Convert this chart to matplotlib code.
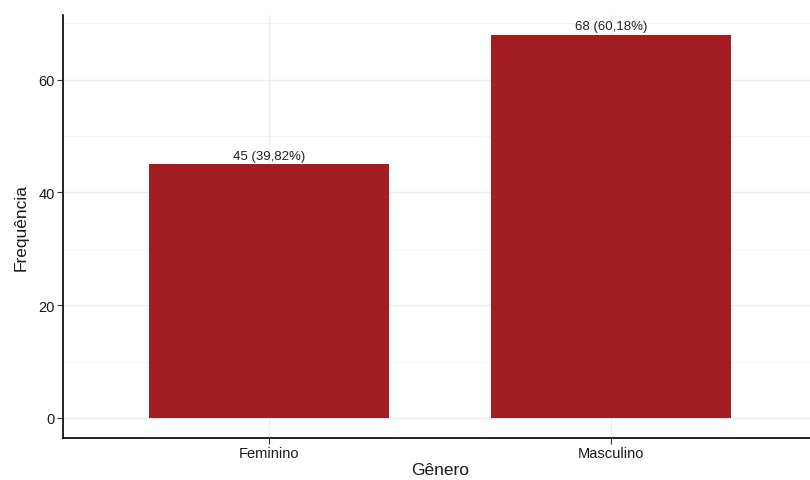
import matplotlib
matplotlib.use("Agg")
import matplotlib.pyplot as plt

# data
categorias = ["Feminino", "Masculino"]
frequencias = [45, 68]
percentuais = ["39,82%", "60,18%"]

plt.rcParams['font.family'] = ['Liberation Sans', 'DejaVu Sans']

fig = plt.figure(figsize=(8.1, 4.81), dpi=100)
ax = fig.add_axes([63 / 810, 1 - 439 / 481, (817 - 63) / 810, (439 - 16) / 481])

x = list(range(1, len(categorias) + 1))
ax.bar(x, frequencias, width=0.7, color="#A11D21", zorder=3)

for xi, f, p in zip(x, frequencias, percentuais):
    ax.text(xi, f + 0.4, f"{f} ({p})", ha="center", va="bottom",
            fontsize=9.5, color="#222222", zorder=4)

ax.set_xlim(0.4, 2.6)
ax.set_ylim(-3.57, 71.5)
ax.set_xticks(x)
ax.set_xticklabels(categorias)
ax.set_yticks([0, 20, 40, 60])
ax.set_yticks([10, 30, 50, 70], minor=True)

# grid like ggplot theme_bw
ax.grid(True, which="major", color="#EBEBEB", linewidth=1.0, zorder=0)
ax.grid(True, which="minor", axis="y", color="#F2F2F2", linewidth=0.6, zorder=0)
ax.tick_params(which="minor", length=0)
ax.tick_params(which="major", length=4, color="#333333", labelsize=10.5,
               labelcolor="#1A1A1A", pad=2)

for s in ["top", "right"]:
    ax.spines[s].set_visible(False)
for s in ["left", "bottom"]:
    ax.spines[s].set_linewidth(1.2)
    ax.spines[s].set_color("black")

ax.set_xlabel("Gênero", fontsize=12.5, color="#1A1A1A", labelpad=1)
ax.set_ylabel("Frequência", fontsize=12.5, color="#1A1A1A", labelpad=7)

fig.savefig("out.png", dpi=100)
